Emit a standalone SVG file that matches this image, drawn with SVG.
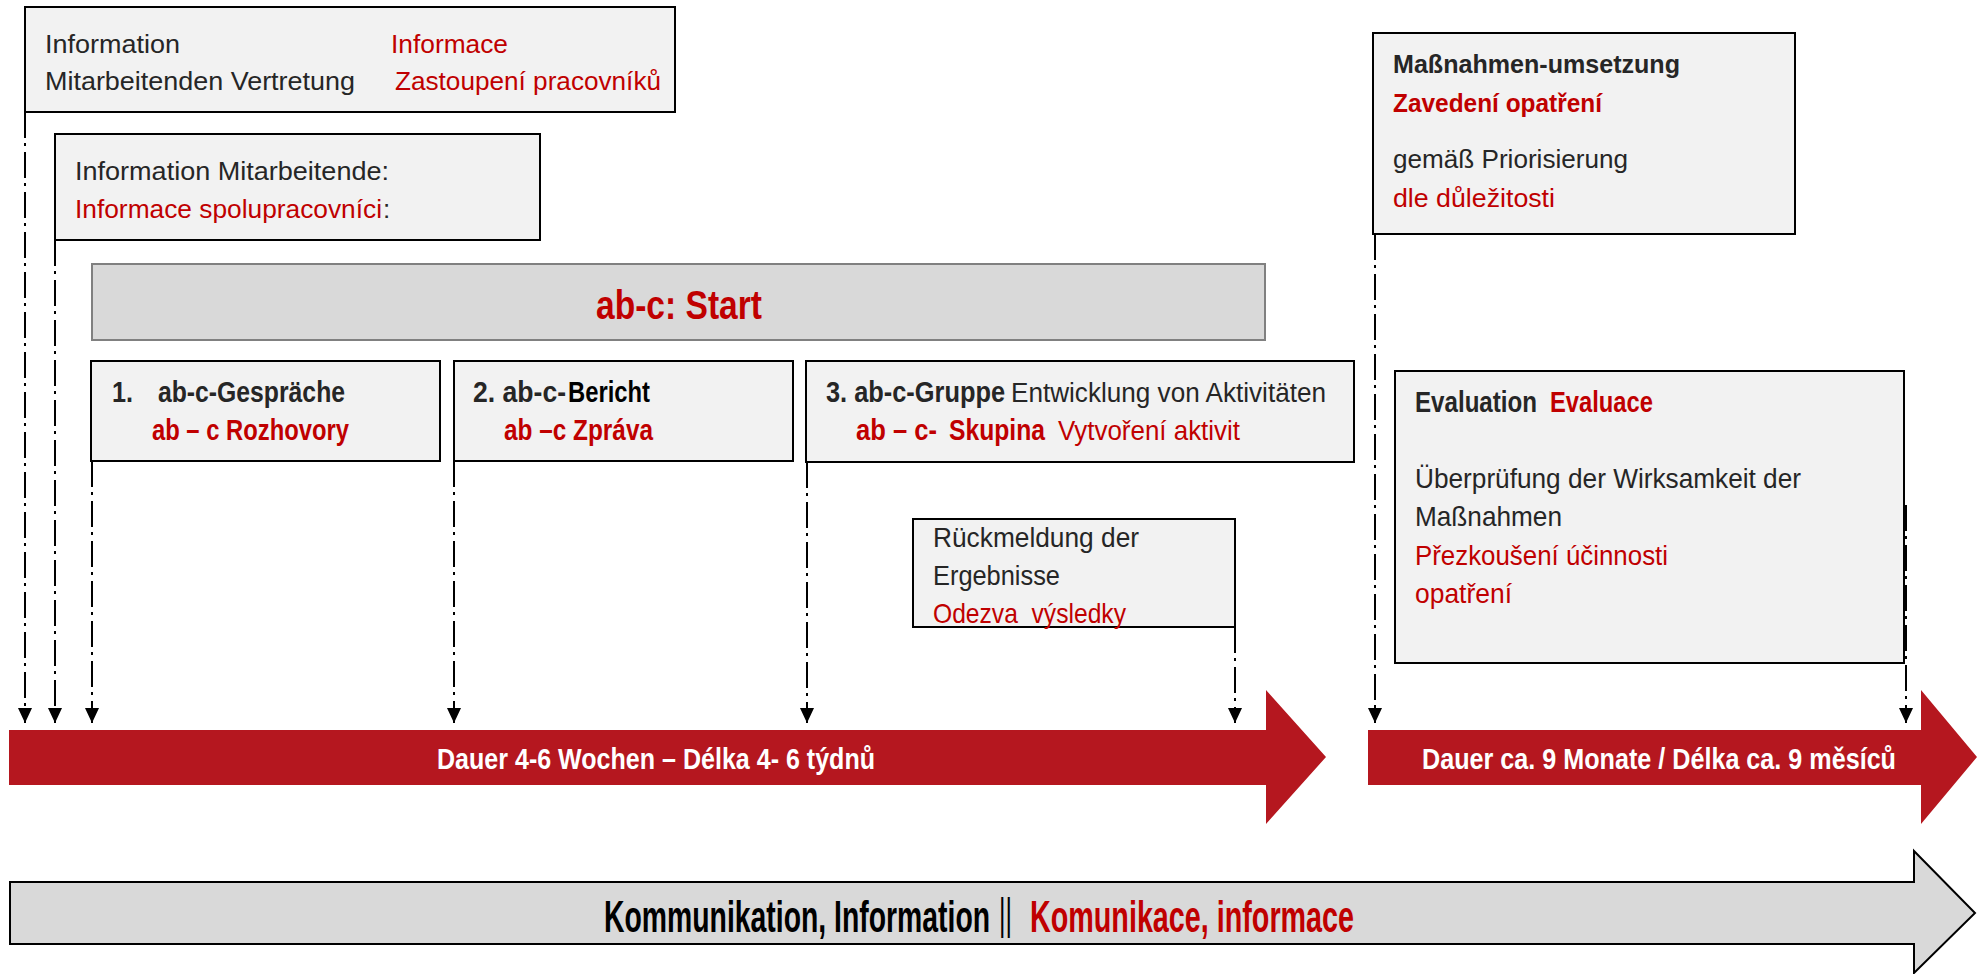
<svg xmlns="http://www.w3.org/2000/svg" width="1985" height="974" viewBox="0 0 1985 974">
<style>
.box{fill:#f2f2f2;stroke:#000;stroke-width:2}
.t{font-family:"Liberation Sans Narrow","Liberation Sans",Arial,sans-serif;font-size:26px;fill:#262626}
.b{font-weight:bold}
.r{fill:#c00000}
.w{fill:#fff}
.k{fill:#000}
.s{font-size:29px}
.m{font-size:27.5px}
.xl{font-size:40px}
.xxl{font-size:44px}
.conn{stroke:#000;stroke-width:2;stroke-dasharray:26 5 3 6;fill:none}
</style>
<defs>
<marker id="ah" viewBox="0 0 15 14" refX="15" refY="7" markerWidth="15" markerHeight="14" markerUnits="userSpaceOnUse" orient="auto">
<path d="M0,0 L15,7 L0,14 z" fill="#000"/>
</marker>
</defs>
<rect width="1985" height="974" fill="#fff"/>

<g id="arrow-weeks">
<polygon points="9,730 1266,730 1266,690 1326,757 1266,824 1266,785 9,785" fill="#b5171f"/>
<text class="t b w s" x="437" y="769" textLength="438" lengthAdjust="spacingAndGlyphs">Dauer 4-6 Wochen – Délka 4- 6 týdnů</text>
</g>
<g id="arrow-months">
<polygon points="1368,730 1921,730 1921,690 1977,757 1921,824 1921,785 1368,785" fill="#b5171f"/>
<text class="t b w s" x="1422" y="769" textLength="474" lengthAdjust="spacingAndGlyphs">Dauer ca. 9 Monate / Délka ca. 9 měsíců</text>
</g>
<g id="arrow-communication">
<polygon points="10,882 1914,882 1914,851 1975,913 1914,973 1914,944 10,944" fill="#d9d9d9" stroke="#000" stroke-width="2"/>
<text class="t b k xxl" transform="translate(604 932) scale(0.65 1)" x="0" y="0" textLength="594" lengthAdjust="spacingAndGlyphs">Kommunikation, Information</text>
<text class="t k xxl" transform="translate(999 929) scale(0.55 1)" x="0" y="0" textLength="23.6" lengthAdjust="spacingAndGlyphs">||</text>
<text class="t b r xxl" transform="translate(1030 932) scale(0.65 1)" x="0" y="0" textLength="498.5" lengthAdjust="spacingAndGlyphs">Komunikace, informace</text>
</g>

<g id="connectors">
<line class="conn" x1="25" y1="112" x2="25" y2="723" marker-end="url(#ah)"/>
<line class="conn" x1="55" y1="240" x2="55" y2="723" marker-end="url(#ah)"/>
<line class="conn" x1="92" y1="461" x2="92" y2="723" marker-end="url(#ah)"/>
<line class="conn" x1="454" y1="461" x2="454" y2="723" marker-end="url(#ah)"/>
<line class="conn" x1="807" y1="462" x2="807" y2="723" marker-end="url(#ah)"/>
<line class="conn" x1="1235" y1="627" x2="1235" y2="723" marker-end="url(#ah)"/>
<line class="conn" x1="1375" y1="234" x2="1375" y2="723" marker-end="url(#ah)"/>
<line class="conn" x1="1906" y1="505" x2="1906" y2="723" marker-end="url(#ah)"/>
</g>

<g id="info-representation">
<rect class="box" x="25" y="7" width="650" height="105"/>
<text class="t" x="45" y="53" textLength="135" lengthAdjust="spacingAndGlyphs">Information</text>
<text class="t r" x="391" y="53" textLength="117" lengthAdjust="spacingAndGlyphs">Informace</text>
<text class="t" x="45" y="90" textLength="310" lengthAdjust="spacingAndGlyphs">Mitarbeitenden Vertretung</text>
<text class="t r" x="395" y="90" textLength="266" lengthAdjust="spacingAndGlyphs">Zastoupení pracovníků</text>
</g>

<g id="info-employees">
<rect class="box" x="55" y="134" width="485" height="106"/>
<text class="t" x="75" y="180" textLength="314" lengthAdjust="spacingAndGlyphs">Information Mitarbeitende:</text>
<text class="t r" x="75" y="218" textLength="307" lengthAdjust="spacingAndGlyphs">Informace spolupracovníci</text>
<text class="t" x="383" y="218">:</text>
</g>

<g id="start">
<rect x="92" y="264" width="1173" height="76" fill="#d9d9d9" stroke="#808080" stroke-width="2"/>
<text class="t b r xl" x="596" y="319" textLength="166" lengthAdjust="spacingAndGlyphs">ab-c: Start</text>
</g>

<g id="step1">
<rect class="box" x="91" y="361" width="349" height="100"/>
<text class="t b s" x="112" y="402" textLength="21" lengthAdjust="spacingAndGlyphs">1.</text>
<text class="t b s" x="158" y="402" textLength="187" lengthAdjust="spacingAndGlyphs">ab-c-Gespräche</text>
<text class="t b r s" x="152" y="440" textLength="197" lengthAdjust="spacingAndGlyphs">ab – c Rozhovory</text>
</g>

<g id="step2">
<rect class="box" x="454" y="361" width="339" height="100"/>
<text class="t b s" x="473" y="402" textLength="93" lengthAdjust="spacingAndGlyphs">2. ab-c-</text>
<text class="t b s k" x="568" y="402" textLength="82" lengthAdjust="spacingAndGlyphs">Bericht</text>
<text class="t b r s" x="504" y="440" textLength="149" lengthAdjust="spacingAndGlyphs">ab –c Zpráva</text>
</g>

<g id="step3">
<rect class="box" x="806" y="361" width="548" height="101"/>
<text class="t b s" x="826" y="402" textLength="179" lengthAdjust="spacingAndGlyphs">3. ab-c-Gruppe</text>
<text class="t m" x="1011" y="402" textLength="315" lengthAdjust="spacingAndGlyphs">Entwicklung von Aktivitäten</text>
<text class="t b r s" x="856" y="440" textLength="81" lengthAdjust="spacingAndGlyphs">ab – c-</text>
<text class="t b r s" x="949" y="440" textLength="96" lengthAdjust="spacingAndGlyphs">Skupina</text>
<text class="t r m" x="1058" y="440" textLength="182" lengthAdjust="spacingAndGlyphs">Vytvoření aktivit</text>
</g>

<g id="feedback">
<rect class="box" x="913" y="519" width="322" height="108"/>
<text class="t m" x="933" y="547" textLength="206" lengthAdjust="spacingAndGlyphs">Rückmeldung der</text>
<text class="t m" x="933" y="585" textLength="127" lengthAdjust="spacingAndGlyphs">Ergebnisse</text>
<text class="t r m" x="933" y="623" xml:space="preserve" textLength="193" lengthAdjust="spacingAndGlyphs">Odezva  výsledky</text>
</g>

<g id="measures">
<rect class="box" x="1373" y="33" width="422" height="201"/>
<text class="t b" x="1393" y="73" textLength="287" lengthAdjust="spacingAndGlyphs">Maßnahmen-umsetzung</text>
<text class="t b r" x="1393" y="112" textLength="209" lengthAdjust="spacingAndGlyphs">Zavedení opatření</text>
<text class="t" x="1393" y="168" textLength="235" lengthAdjust="spacingAndGlyphs">gemäß Priorisierung</text>
<text class="t r" x="1393" y="207" textLength="162" lengthAdjust="spacingAndGlyphs">dle důležitosti</text>
</g>

<g id="evaluation">
<rect class="box" x="1395" y="371" width="509" height="292"/>
<text class="t b s" x="1415" y="412" textLength="122" lengthAdjust="spacingAndGlyphs">Evaluation</text>
<text class="t b r s" x="1550" y="412" textLength="103" lengthAdjust="spacingAndGlyphs">Evaluace</text>
<text class="t m" x="1415" y="488" textLength="386" lengthAdjust="spacingAndGlyphs">Überprüfung der Wirksamkeit der</text>
<text class="t m" x="1415" y="526" textLength="147" lengthAdjust="spacingAndGlyphs">Maßnahmen</text>
<text class="t r m" x="1415" y="565" textLength="253" lengthAdjust="spacingAndGlyphs">Přezkoušení účinnosti</text>
<text class="t r m" x="1415" y="603" textLength="97" lengthAdjust="spacingAndGlyphs">opatření</text>
</g>
</svg>
